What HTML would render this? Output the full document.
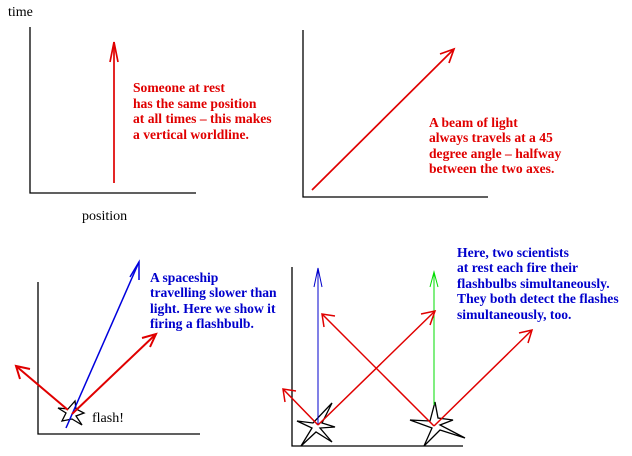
<!DOCTYPE html>
<html><head><style>
html,body{margin:0;padding:0;background:#fff;}
svg{display:block}
text{font-family:"Liberation Serif",serif;font-size:13.6px;font-weight:bold;}
</style></head><body>
<svg width="632" height="456" viewBox="0 0 632 456" xmlns="http://www.w3.org/2000/svg">
<g stroke="#000" stroke-width="1.3" fill="none">
<polyline points="30,27 30,193 196,193"/>
<polyline points="303,30 303,197 488,197"/>
<polyline points="38,282 38,434 200,434"/>
<polyline points="292,267 292,446 463,446"/>
</g>
<g fill="#000">
<text x="8" y="16" style="font-size:14px;font-weight:normal">time</text>
<text x="82" y="220" style="font-size:14px;font-weight:normal">position</text>
<text x="92" y="422" style="font-size:14px;font-weight:normal">flash!</text>
</g>
<g stroke="#e00000" stroke-width="1.7" fill="none">
<line x1="114" y1="183" x2="114" y2="42"/>
<polyline points="110,62 114,42 118,62"/>
<line x1="312" y1="190" x2="454" y2="49"/>
<polyline points="440,54 454,49 449,63"/>
</g>
<g fill="#e00000">
<text x="133" y="92">Someone at rest</text>
<text x="133" y="108">has the same position</text>
<text x="133" y="123">at all times – this makes</text>
<text x="133" y="139">a vertical worldline.</text>
<text x="429" y="127">A beam of light</text>
<text x="429" y="142">always travels at a 45</text>
<text x="429" y="158">degree angle – halfway</text>
<text x="429" y="173">between the two axes.</text>
</g>
<g fill="#0000cc">
<text x="150" y="282">A spaceship</text>
<text x="150" y="297">travelling slower than</text>
<text x="150" y="313">light.  Here we show it</text>
<text x="150" y="328">firing a flashbulb.</text>
<text x="457" y="257">Here, two scientists</text>
<text x="457" y="272">at rest each fire their</text>
<text x="457" y="288">flashbulbs simultaneously.</text>
<text x="457" y="303">They both detect the flashes</text>
<text x="457" y="319">simultaneously, too.</text>
</g>
<g stroke="#000" stroke-width="1.3" fill="none">
<polygon points="75,401 76,409 84,413 76,416 82,425 72,419 62,421 66,413 58,408 68,409"/>
</g>
<g stroke="#0000dd" stroke-width="1.5" fill="none">
<line x1="66" y1="428" x2="139" y2="262"/>
<polyline points="130,277 139,262 139,280"/>
</g>
<g stroke="#e00000" stroke-width="2" fill="none">
<line x1="72" y1="414" x2="156" y2="334"/>
<polyline points="142,338 156,334 150,347"/>
<line x1="68" y1="410" x2="16" y2="366"/>
<polyline points="20,379 16,366 30,369"/>
</g>
<g stroke="#000" stroke-width="1.3" fill="none">
<polygon points="332,403 322,423 335,427 320,428 332,442 316,432 301,446 312,428 297,421 313,423"/>
<polygon points="435,402 438,418 453,420 440,425 465,438 440,430 424,446 432,428 410,420 430,421"/>
</g>
<g stroke="#0000cc" stroke-width="1" fill="none">
<line x1="318" y1="424" x2="318" y2="268"/>
<polyline points="314,287 318,268 322,287"/>
</g>
<g stroke="#00dd00" stroke-width="1" fill="none">
<line x1="434" y1="405" x2="434" y2="272"/>
<polyline points="430,287 434,272 438,287"/>
</g>
<g stroke="#e00000" stroke-width="1.5" fill="none">
<line x1="318" y1="425" x2="435" y2="311"/>
<polyline points="421,314 435,311 430,325"/>
<line x1="318" y1="425" x2="283" y2="389"/>
<polyline points="285,402 283,389 296,391"/>
<line x1="434" y1="426" x2="322" y2="314"/>
<polyline points="324,327 322,314 335,316"/>
<line x1="434" y1="426" x2="532" y2="330"/>
<polyline points="519,333 532,330 528,343"/>
</g>
</svg>
</body></html>
